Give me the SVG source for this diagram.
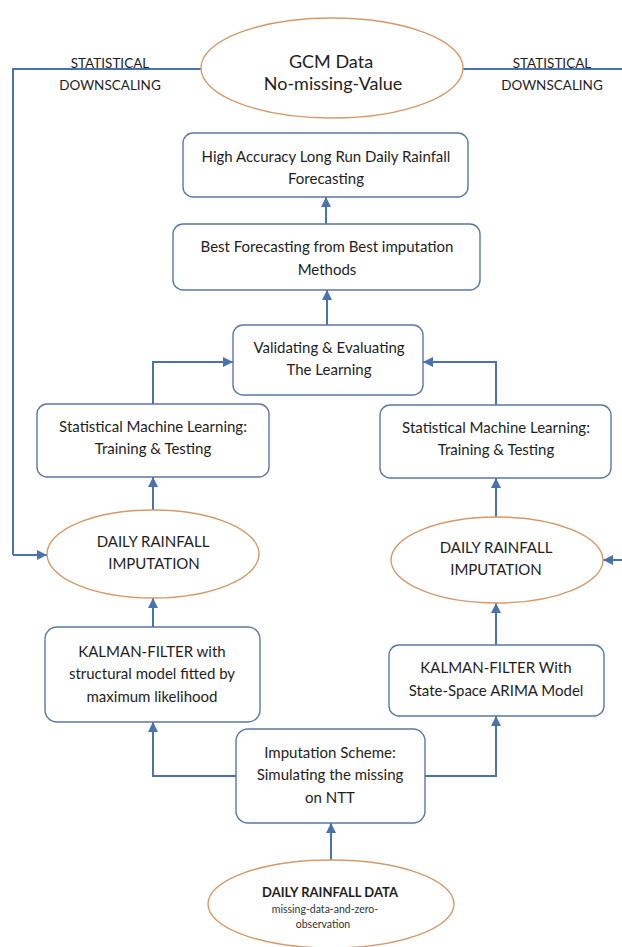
<svg xmlns="http://www.w3.org/2000/svg" width="622" height="947" viewBox="0 0 622 947">
<defs>
<marker id="ah" viewBox="0 0 10 10" refX="10" refY="5" markerWidth="10" markerHeight="10" markerUnits="userSpaceOnUse" orient="auto">
<path d="M0,0 L10,5 L0,10 z" fill="#4a72b0"/>
</marker>
<style>
.box{fill:#fff;stroke:#5b78a3;stroke-width:1.4}
.ell{fill:#fff;stroke:#d49a6a;stroke-width:1.4}
.t{font-family:Lato,"Open Sans","Liberation Sans",sans-serif;fill:#1e1e1e;text-anchor:middle;font-size:15px}
.lab{font-size:13.5px}
.big{font-size:18px}
.bd{font-size:13px;font-weight:bold}
.sm{font-size:10.5px;fill:#333}
.c{fill:none;stroke:#4a72b0;stroke-width:2}
.ca{fill:none;stroke:#4a72b0;stroke-width:2;marker-end:url(#ah)}
</style>
</defs>
<rect width="622" height="947" fill="#fff"/>
<g id="connectors">
<path class="c" d="M202,69 H13 V555"/>
<path class="ca" d="M13,555 H47"/>
<path class="c" d="M463,69 H622"/>
<path class="ca" d="M622,560 H603"/>
<path class="ca" d="M326,224 V197"/>
<path class="ca" d="M327,325 V290"/>
<path class="ca" d="M153,404 V362 H233"/>
<path class="ca" d="M496,405 V362 H423"/>
<path class="ca" d="M153,510 V477"/>
<path class="ca" d="M496,517 V478"/>
<path class="ca" d="M153,627 V598"/>
<path class="ca" d="M496,645 V603"/>
<path class="ca" d="M236,776 H153 V722"/>
<path class="ca" d="M425,776 H496 V716"/>
<path class="ca" d="M331,860 V823"/>
</g>
<g id="label-left">
<text class="t lab" x="110" y="68">STATISTICAL</text>
<text class="t lab" x="110" y="90">DOWNSCALING</text>
</g>
<g id="label-right">
<text class="t lab" x="552" y="68">STATISTICAL</text>
<text class="t lab" x="552" y="90">DOWNSCALING</text>
</g>
<g id="gcm">
<ellipse class="ell" cx="332" cy="68" rx="131" ry="50"/>
<text class="t big" x="331" y="68">GCM Data</text>
<text class="t big" x="333" y="90">No-missing-Value</text>
</g>
<g id="high-accuracy">
<rect class="box" x="183" y="133" width="285" height="64" rx="10"/>
<text class="t" x="326" y="162">High Accuracy Long Run Daily Rainfall</text>
<text class="t" x="326" y="184">Forecasting</text>
</g>
<g id="best-forecasting">
<rect class="box" x="173" y="224" width="307" height="66" rx="10"/>
<text class="t" x="327" y="252">Best Forecasting from Best imputation</text>
<text class="t" x="327" y="275">Methods</text>
</g>
<g id="validating">
<rect class="box" x="233" y="325" width="190" height="70" rx="10"/>
<text class="t" x="329" y="353">Validating &amp; Evaluating</text>
<text class="t" x="329" y="375">The Learning</text>
</g>
<g id="sml-left">
<rect class="box" x="37" y="404" width="232" height="73" rx="10"/>
<text class="t" x="153" y="432">Statistical Machine Learning:</text>
<text class="t" x="153" y="454">Training &amp; Testing</text>
</g>
<g id="sml-right">
<rect class="box" x="380" y="405" width="231" height="73" rx="10"/>
<text class="t" x="496" y="433">Statistical Machine Learning:</text>
<text class="t" x="496" y="455">Training &amp; Testing</text>
</g>
<g id="imputation-left">
<ellipse class="ell" cx="153" cy="554" rx="106" ry="44"/>
<text class="t" x="153" y="547">DAILY RAINFALL</text>
<text class="t" x="154" y="569">IMPUTATION</text>
</g>
<g id="imputation-right">
<ellipse class="ell" cx="497" cy="560" rx="106" ry="43"/>
<text class="t" x="496" y="553">DAILY RAINFALL</text>
<text class="t" x="496" y="575">IMPUTATION</text>
</g>
<g id="kalman-left">
<rect class="box" x="45" y="627" width="215" height="95" rx="12"/>
<text class="t" x="152" y="657">KALMAN-FILTER with</text>
<text class="t" x="152" y="679">structural model fitted by</text>
<text class="t" x="152" y="702">maximum likelihood</text>
</g>
<g id="kalman-right">
<rect class="box" x="389" y="645" width="215" height="71" rx="10"/>
<text class="t" x="496" y="673">KALMAN-FILTER With</text>
<text class="t" x="496" y="696">State-Space ARIMA Model</text>
</g>
<g id="imputation-scheme">
<rect class="box" x="236" y="729" width="189" height="94" rx="12"/>
<text class="t" x="330" y="758">Imputation Scheme:</text>
<text class="t" x="330" y="780">Simulating the missing</text>
<text class="t" x="330" y="803">on NTT</text>
</g>
<g id="rainfall-data">
<ellipse class="ell" cx="331" cy="904" rx="123" ry="44"/>
<text class="t bd" x="330" y="897">DAILY RAINFALL DATA</text>
<text class="t sm" x="325" y="913">missing-data-and-zero-</text>
<text class="t sm" x="323" y="928">observation</text>
</g>
</svg>
